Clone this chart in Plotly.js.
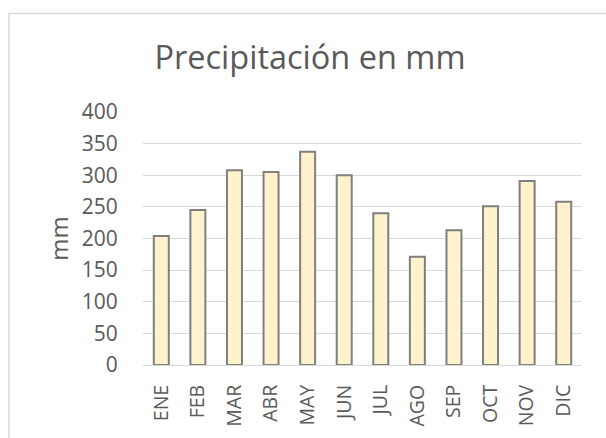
<!DOCTYPE html>
<html>
<head>
<meta charset="utf-8">
<script src="https://cdn.plot.ly/plotly-3.0.1.min.js"></script>
<style>html,body{margin:0;padding:0;background:#fff;}#chart{width:606px;height:438px;}</style>
</head>
<body>
<div id="chart"></div>
<script>
const months = ["ENE","FEB","MAR","ABR","MAY","JUN","JUL","AGO","SEP","OCT","NOV","DIC"];
const precipitation = [204, 245, 308, 305, 337, 300, 240, 171, 213, 251, 291, 258];
const yTicks = [0, 50, 100, 150, 200, 250, 300, 350, 400];

const fontFam = "'Open Sans', sans-serif";
const trace = {
  type: "bar",
  x: months,
  y: precipitation,
  width: 0.41,
  marker: {color: "#FFF2CC", line: {color: "#7F7F7F", width: 2}},
  hoverinfo: "x+y"
};
const layout = {
  width: 606, height: 438,
  margin: {l: 143, r: 24, t: 112, b: 73},
  paper_bgcolor: "#ffffff",
  plot_bgcolor: "#ffffff",
  showlegend: false,
  font: {family: fontFam, color: "#595959"},
  title: {text: "Precipitación en mm", font: {family: fontFam, size: 32.5, color: "#595959"},
          xref: "container", yref: "container", x: 310 / 606, xanchor: "center", y: 1 - 58 / 438, yanchor: "middle"},
  xaxis: {
    type: "category",
    tickangle: -90,
    tickfont: {size: 19.5, color: "#595959"},
    showgrid: false,
    showline: true, linecolor: "#D9D9D9", linewidth: 1,
    ticks: "outside", ticklen: 11, tickcolor: "rgba(0,0,0,0)",
    zeroline: false
  },
  yaxis: {
    range: [0, 400],
    tickvals: yTicks,
    tickfont: {size: 21, color: "#595959"},
    showgrid: true, gridcolor: "#D9D9D9", gridwidth: 1,
    zeroline: false,
    showline: false,
    ticks: "outside", ticklen: 20, tickcolor: "rgba(0,0,0,0)",
    title: {text: "mm", font: {size: 24, color: "#595959"}, standoff: 6}
  },
  shapes: [{
    type: "rect", xref: "paper", yref: "paper",
    x0: (9 - 143) / 439, x1: (620 - 143) / 439,
    y0: (365 - 450) / 253, y1: (365 - 13.5) / 253,
    line: {color: "#D9D9D9", width: 1.5}, fillcolor: "rgba(0,0,0,0)", layer: "below"
  }]
};
Plotly.newPlot("chart", [trace], layout, {displayModeBar: false, staticPlot: true});
</script>
</body>
</html>
